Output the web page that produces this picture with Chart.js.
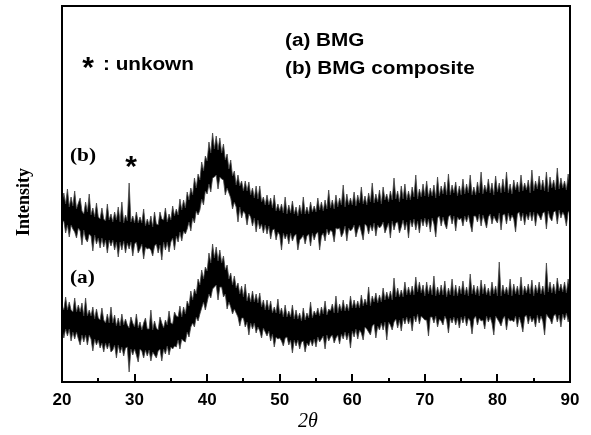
<!DOCTYPE html>
<html>
<head>
<meta charset="utf-8">
<script src="https://cdn.jsdelivr.net/npm/chart.js@4"></script>
<style>
  body { margin: 0; background: #fff; }
</style>
</head>
<body>
<canvas id="xrdChart" width="591" height="435"></canvas>
<script>
// 2θ scan: 20 to 90 degrees, the noise band read every 0.25 degree
const thetaStart = 20;
const thetaStep = 0.25;
const xTicks = [20, 30, 40, 50, 60, 70, 80, 90];
const xMinorTicks = [25, 35, 45, 55, 65, 75, 85];

// (b) BMG composite: top and bottom of the noisy trace (arb. units)
const bmgCompositeUpper = [
    179,189,178,193, 175,185,176,191, 173,179,184,171, 168,180,170,188, 167,174,165,179,
    165,163,174,163, 161,178,162,168, 160,170,162,175, 160,180,159,167, 161,199,160,166,
    159,170,159,165, 159,173,156,163, 157,166,155,170, 158,157,170,163, 162,174,160,168,
    162,176,166,173, 167,183,172,182, 174,190,182,194, 187,204,194,208, 202,220,211,226,
    221,240,229,249, 233,246,232,244, 229,238,222,228, 213,222,206,211, 197,207,196,201,
    191,201,191,200, 187,194,184,196, 183,196,180,185, 177,187,177,184, 174,187,171,178,
    171,178,169,185, 168,177,169,181, 168,175,166,177, 168,185,168,175, 168,180,170,176,
    170,184,172,180, 171,182,173,192, 174,182,173,187, 175,184,177,197, 175,188,177,184,
    177,190,176,187, 179,195,178,186, 177,189,180,199, 179,188,180,192, 178,195,182,188,
    180,191,182,204, 183,191,180,196, 183,198,182,191, 182,195,185,207, 183,193,185,198,
    186,201,185,194, 186,197,184,205, 186,196,188,200, 187,208,187,197, 189,200,186,196,
    187,203,188,198, 189,207,187,195, 187,200,189,210, 188,197,190,203, 189,199,187,206,
    190,199,189,203, 190,210,189,198, 188,202,192,200, 190,207,191,199, 192,202,189,212,
    191,201,193,206, 192,202,191,210, 190,205,194,202, 192,214,193,204, 194,201,192,208,
    194
];
const bmgCompositeLower = [
    160,161,149,157, 145,157,153,150, 144,154,151,137, 152,143,140,148, 146,131,147,138,
    144,134,144,135, 142,129,142,136, 142,132,140,125, 140,132,141,129, 139,133,140,126,
    138,140,129,133, 138,123,135,133, 134,132,126,136, 138,129,137,122, 140,132,140,130,
    140,144,132,146, 140,150,141,151, 148,153,160,151, 164,159,171,167, 172,183,177,191,
    188,198,190,204, 205,207,193,205, 203,202,187,194, 189,184,173,180, 175,160,175,164,
    171,168,157,168, 165,156,164,150, 162,153,158,149, 157,148,156,143, 152,153,142,150,
    147,132,149,143, 148,138,149,141, 146,148,132,142, 144,147,138,146, 148,136,149,142,
    148,150,132,146, 149,141,153,147, 152,150,140,154, 153,154,145,149, 156,141,154,151,
    153,157,145,152, 157,150,142,158, 156,148,157,151, 159,146,157,154, 156,160,149,154,
    159,144,161,152, 159,160,149,155, 162,152,160,144, 162,155,163,152, 161,149,163,156,
    164,155,163,150, 164,158,145,164, 166,156,165,158, 153,165,167,158, 166,151,165,162,
    164,156,166,160, 167,158,150,166, 166,160,168,156, 167,161,154,165, 168,158,166,162,
    159,169,152,167, 168,158,169,161, 167,163,150,168, 170,161,169,157, 168,162,170,161,
    170,156,169,166, 162,169,170,153, 171,164,161,170, 171,158,172,164, 170,166,156,170,
    171
];

// (a) BMG
const bmgUpper = [
    76,72,85,72, 80,72,70,84, 70,77,70,79, 66,84,66,72, 66,75,63,73,
    64,62,74,62, 59,68,59,75, 59,67,56,64, 56,68,57,63, 57,54,65,59,
    55,68,54,60, 52,59,64,53, 53,72,52,61, 54,52,65,59, 54,62,57,71,
    59,58,70,66, 65,76,65,75, 68,81,76,91, 82,93,88,103, 97,112,103,115,
    111,129,119,138, 124,135,121,132, 119,126,112,117, 103,109,97,106, 94,99,88,96,
    85,98,81,89, 80,91,80,88, 79,89,75,82, 72,82,72,81, 69,75,69,83,
    68,74,65,77, 65,71,65,77, 63,72,63,69, 61,74,62,69, 64,80,64,71,
    67,74,66,75, 68,81,67,73, 71,78,69,86, 69,78,71,82, 71,78,71,86,
    74,82,74,81, 74,87,76,83, 77,95,76,86, 80,89,79,87, 80,94,82,90,
    83,91,82,104, 85,94,85,92, 85,100,87,95, 87,96,87,105, 90,100,89,97,
    86,100,88,97, 87,106,86,95, 87,97,87,101, 85,94,87,103, 86,97,86,96,
    88,101,87,95, 86,108,88,97, 87,96,86,102, 88,98,87,94, 86,100,88,96,
    86,120,86,97, 88,95,87,103, 86,98,88,96, 87,105,87,96, 89,98,88,102,
    86,97,89,100, 88,96,87,119, 90,100,89,98, 88,104,91,98, 90,100,89,103,
    91
];
const bmgLower = [
    53,44,53,46, 53,41,50,43, 50,43,37,47, 40,47,37,47, 43,31,43,37,
    42,34,39,30, 39,33,39,30, 32,37,24,37, 29,35,26,34, 35,10,33,27,
    33,27,20,33, 31,24,32,26, 32,21,30,27, 24,31,33,21, 33,28,36,27,
    35,33,36,35, 42,33,43,41, 40,50,45,55, 59,55,65,61, 68,74,80,72,
    80,88,84,93, 95,97,82,95, 95,85,88,73, 80,75,68,73, 69,65,56,64,
    64,55,60,47, 59,53,59,49, 55,51,44,54, 50,46,51,41, 48,35,45,43,
    44,41,36,44, 45,37,42,29, 42,36,42,33, 40,41,30,39, 36,42,36,43,
    35,45,40,43, 46,33,47,41, 45,47,39,44, 47,38,48,43, 50,42,49,34,
    51,45,53,43, 52,49,42,55, 53,50,47,56, 58,44,56,52, 59,52,60,42,
    60,57,52,60, 63,54,62,51, 64,58,65,58, 64,51,66,60, 68,58,66,64,
    62,62,46,65, 65,59,66,55, 63,61,57,66, 62,49,64,59, 65,57,64,54,
    65,59,66,56, 64,61,48,63, 66,57,64,61, 62,53,66,60, 65,59,47,66,
    63,60,56,63, 66,52,64,61, 62,60,66,55, 65,59,50,65, 67,58,66,60,
    64,55,67,59, 66,61,47,68, 65,63,58,66, 68,60,67,55, 68,62,69,60,
    67
];

function toPoints(values) {
    return values.map((v, i) => ({ x: thetaStart + i * thetaStep, y: v }));
}

// draws text stretched horizontally like the original figure
function stretchedText(ctx, text, x, y, sx) {
    ctx.save();
    ctx.translate(x, y);
    ctx.scale(sx, 1);
    ctx.fillText(text, 0, 0);
    ctx.restore();
}

// frame, inward ticks and the labels printed inside the plot
const decorations = {
    id: 'decorations',
    afterDraw(chart) {
        const ctx = chart.ctx;
        const area = chart.chartArea;
        const xScale = chart.scales.x;

        ctx.save();
        ctx.strokeStyle = '#000';
        ctx.lineWidth = 2;
        ctx.strokeRect(area.left, area.top, area.right - area.left, area.bottom - area.top);

        ctx.beginPath();
        xTicks.forEach(v => {
            const px = Math.round(xScale.getPixelForValue(v));
            ctx.moveTo(px, area.bottom);
            ctx.lineTo(px, area.bottom - 8);
        });
        xMinorTicks.forEach(v => {
            const px = Math.round(xScale.getPixelForValue(v));
            ctx.moveTo(px, area.bottom);
            ctx.lineTo(px, area.bottom - 4);
        });
        ctx.stroke();

        ctx.fillStyle = '#000';
        ctx.textBaseline = 'alphabetic';
        ctx.textAlign = 'left';

        ctx.font = 'bold 18px "Liberation Sans", Arial, sans-serif';
        stretchedText(ctx, '(a) BMG', 285, 46, 1.15);
        stretchedText(ctx, '(b) BMG composite', 285, 74, 1.15);
        stretchedText(ctx, ': unkown', 103, 70, 1.15);

        ctx.font = 'bold 19px "Liberation Serif", "Times New Roman", serif';
        stretchedText(ctx, '(b)', 70, 161, 1.12);
        stretchedText(ctx, '(a)', 70, 283, 1.12);

        ctx.textAlign = 'center';
        ctx.font = 'bold 30px "Liberation Sans", Arial, sans-serif';
        ctx.fillText('*', 88, 77);
        ctx.fillText('*', 131, 176);

        // axis titles
        ctx.font = 'italic 20px "Liberation Serif", "Times New Roman", serif';
        ctx.fillText('2\u03B8', 308, 427);

        ctx.save();
        ctx.translate(29, 202);
        ctx.rotate(-Math.PI / 2);
        ctx.font = 'bold 18px "Liberation Serif", "Times New Roman", serif';
        ctx.fillText('Intensity', 0, 0);
        ctx.restore();

        ctx.restore();
    }
};

// top edge of a band, then the bottom edge filled up to it
function bandDatasets(name, upper, lower) {
    return [
        {
            label: name + ' max',
            data: toPoints(upper),
            borderColor: '#444',
            borderWidth: 0.8,
            pointRadius: 0,
            fill: false
        },
        {
            label: name + ' min',
            data: toPoints(lower),
            borderColor: '#444',
            borderWidth: 0.8,
            pointRadius: 0,
            backgroundColor: '#000',
            fill: '-1'
        }
    ];
}

const ctx = document.getElementById('xrdChart').getContext('2d');

new Chart(ctx, {
    type: 'line',
    data: {
        datasets: [
            ...bandDatasets('(b) BMG composite', bmgCompositeUpper, bmgCompositeLower),
            ...bandDatasets('(a) BMG', bmgUpper, bmgLower)
        ]
    },
    options: {
        responsive: false,
        animation: false,
        layout: {
            padding: { left: 62, right: 21, top: 6, bottom: 0 }
        },
        plugins: {
            legend: { display: false },
            tooltip: { enabled: false }
        },
        scales: {
            x: {
                type: 'linear',
                min: 20,
                max: 90,
                grid: { display: false, drawTicks: false },
                border: { display: false },
                ticks: {
                    stepSize: 10,
                    color: '#000',
                    padding: 8,
                    font: { family: '"Liberation Sans", Arial, sans-serif', size: 17, weight: 'bold' }
                },
                afterFit(scale) {
                    scale.height = 53;
                }
            },
            y: {
                display: false,
                min: 0,
                max: 376
            }
        }
    },
    plugins: [decorations]
});
</script>
</body>
</html>
